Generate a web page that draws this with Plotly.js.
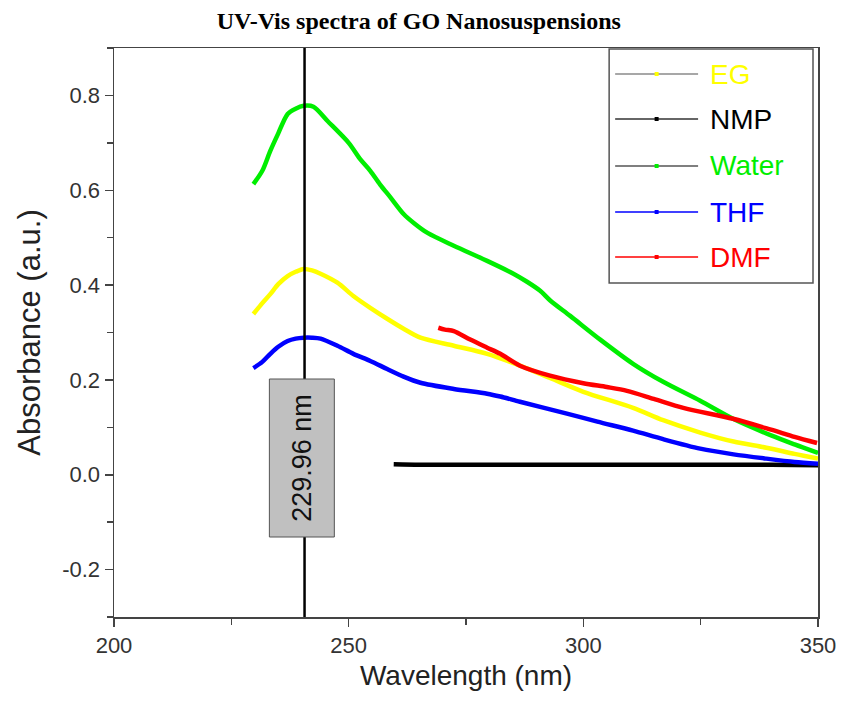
<!DOCTYPE html>
<html>
<head>
<meta charset="utf-8">
<script src="https://cdn.plot.ly/plotly-3.0.1.min.js"></script>
<style>html,body{margin:0;padding:0;background:#fff;}#chart{width:841px;height:707px;}</style>
</head>
<body>
<div id="chart"></div>
<script>
// Series names and colours
const seriesNames = ['EG', 'NMP', 'Water', 'THF', 'DMF'];
const seriesColors = ['#ffff00', '#000000', '#00ee00', '#0000ff', '#ff0000'];
const legendLineColors = ['#8a8a8a', '#333333', '#555555', '#0000ff', '#ff0000'];

// Wavelength (nm) / absorbance readings
const egX = [229.7, 231.6, 233.3, 235, 237, 238.7, 240.4, 242.2, 244, 247.6, 251, 254.6, 258.2, 261.7, 265.3, 272.4, 279.5, 286.5, 292.9, 300, 310.6, 317, 324.9, 332, 339, 345, 350];
const egY = [0.339, 0.362, 0.381, 0.402, 0.419, 0.428, 0.434, 0.431, 0.424, 0.405, 0.377, 0.352, 0.329, 0.308, 0.289, 0.272, 0.255, 0.23, 0.204, 0.175, 0.141, 0.115, 0.089, 0.07, 0.057, 0.044, 0.034];

const nmpX = [259.6, 265, 270, 280, 290, 300, 310, 320, 330, 340, 350];
const nmpY = [0.022, 0.021, 0.021, 0.021, 0.021, 0.021, 0.021, 0.021, 0.021, 0.021, 0.02];

const waterX = [229.7, 231.6, 233.3, 235, 237, 238.7, 240.4, 242.5, 245.5, 250, 252.5, 254.6, 256.7, 258.9, 261.7, 264, 266.8, 272.4, 279.5, 285.1, 288, 290.8, 293, 297.2, 303.6, 310.6, 317, 324.9, 331.9, 340, 345, 350];
const waterY = [0.613, 0.641, 0.683, 0.72, 0.761, 0.772, 0.778, 0.776, 0.746, 0.7, 0.665, 0.641, 0.612, 0.585, 0.55, 0.53, 0.51, 0.483, 0.451, 0.424, 0.407, 0.388, 0.367, 0.335, 0.285, 0.234, 0.196, 0.156, 0.118, 0.083, 0.064, 0.046];

const thfX = [229.7, 231.6, 233.3, 235, 237, 238.7, 240.4, 242.2, 244, 247.6, 251, 254.6, 258.2, 261.7, 265.3, 272.4, 279.5, 282.3, 286.5, 296.5, 303, 310.6, 317, 324.9, 332, 339, 345, 350];
const thfY = [0.225, 0.238, 0.255, 0.27, 0.282, 0.287, 0.289, 0.289, 0.287, 0.272, 0.255, 0.24, 0.223, 0.207, 0.194, 0.181, 0.171, 0.165, 0.154, 0.129, 0.112, 0.093, 0.075, 0.055, 0.043, 0.034, 0.027, 0.023];

const dmfX = [269.1, 270.5, 272.4, 275.9, 279.5, 282.3, 286.5, 292.9, 300, 305, 309.3, 315, 321.3, 331.9, 340, 345, 349.8];
const dmfY = [0.31, 0.306, 0.303, 0.285, 0.268, 0.255, 0.23, 0.209, 0.193, 0.185, 0.177, 0.16, 0.141, 0.118, 0.095, 0.08, 0.067];

const peakWavelength = 240.6;
const peakLabel = '229.96 nm';

const xTickVals = [200, 250, 300, 350];
const yTickVals = [-0.2, 0.0, 0.2, 0.4, 0.6, 0.8];
const yTickText = ['-0.2', '0.0', '0.2', '0.4', '0.6', '0.8'];

const xs = [egX, nmpX, waterX, thfX, dmfX];
const ys = [egY, nmpY, waterY, thfY, dmfY];

const traces = seriesNames.map((n, i) => ({
  x: xs[i], y: ys[i], name: n, type: 'scatter', mode: 'lines',
  line: {color: seriesColors[i], width: 4.5, shape: 'spline', smoothing: 0.8},
  showlegend: false, hoverinfo: 'skip'
}));

// Manual legend (paper coords), plot area: x 113.5..818 px, y 48..617 px
const plotL = 113.5, plotR = 818, plotT = 48, plotB = 617;
const px2x = p => (p - plotL) / (plotR - plotL);
const py2y = p => (plotB - p) / (plotB - plotT);

const shapes = [
  {type: 'line', xref: 'x', yref: 'paper', x0: peakWavelength, x1: peakWavelength, y0: 0, y1: 1,
   line: {color: '#000', width: 2.5}},
  {type: 'rect', xref: 'paper', yref: 'paper', x0: px2x(269), x1: px2x(334), y0: py2y(537), y1: py2y(379),
   fillcolor: '#c0c0c0', line: {color: '#555', width: 1}},
  {type: 'rect', xref: 'paper', yref: 'paper', x0: px2x(609), x1: px2x(813), y0: py2y(283), y1: py2y(49),
   fillcolor: '#ffffff', line: {color: '#555', width: 1.5}}
];
const annotations = [
  {xref: 'paper', yref: 'paper', x: px2x(301.5), y: py2y(458), xanchor: 'center', yanchor: 'middle',
   text: peakLabel, textangle: -90,
   showarrow: false, font: {family: 'Liberation Sans, Arial', size: 27, color: '#111'}}
];
const rowY = [74, 119, 166, 212, 257];
seriesNames.forEach((n, i) => {
  const yy = py2y(rowY[i]);
  shapes.push({type: 'line', xref: 'paper', yref: 'paper', x0: px2x(615), x1: px2x(698), y0: yy, y1: yy,
    line: {color: legendLineColors[i], width: 1.5}});
  shapes.push({type: 'rect', xref: 'paper', yref: 'paper', x0: px2x(654.5), x1: px2x(658.5),
    y0: py2y(rowY[i] + 2), y1: py2y(rowY[i] - 2), fillcolor: seriesColors[i], line: {width: 0}});
  annotations.push({xref: 'paper', yref: 'paper', x: px2x(708), y: yy, xanchor: 'left', yanchor: 'middle',
    text: n, showarrow: false, font: {family: 'Liberation Sans, Arial', size: 28, color: seriesColors[i]}});
});

const layout = {
  width: 841, height: 707,
  margin: {l: 113.5, r: 23, t: 48, b: 90},
  paper_bgcolor: '#fff', plot_bgcolor: '#fff',
  showlegend: false,
  title: {text: '<b>UV-Vis spectra of GO Nanosuspensions</b>', xref: 'container', yref: 'container',
    x: 0.498, y: 1 - 21 / 707, xanchor: 'center', yanchor: 'middle',
    font: {family: 'Liberation Serif, Times New Roman', size: 24, color: '#000'}},
  xaxis: {range: [200, 350], tickvals: xTickVals, ticks: 'outside', ticklen: 8, tickwidth: 1.5, tickcolor: '#444',
    showline: true, linecolor: '#444', linewidth: 1.5, mirror: true, showgrid: false, zeroline: false,
    minor: {dtick: 25, tick0: 200, ticks: 'outside', ticklen: 6, tickwidth: 1.5, tickcolor: '#444', showgrid: false},
    tickfont: {family: 'Liberation Sans, Arial', size: 22, color: '#333'},
    title: {text: 'Wavelength (nm)', standoff: 8, font: {family: 'Liberation Sans, Arial', size: 28, color: '#222'}}},
  yaxis: {range: [-0.3, 0.9], tickvals: yTickVals, ticktext: yTickText, ticks: 'outside', ticklen: 8, tickwidth: 1.5, tickcolor: '#444',
    showline: true, linecolor: '#444', linewidth: 1.5, mirror: true, showgrid: false, zeroline: false,
    minor: {dtick: 0.1, tick0: 0, ticks: 'outside', ticklen: 6, tickwidth: 1.5, tickcolor: '#444', showgrid: false},
    tickfont: {family: 'Liberation Sans, Arial', size: 22, color: '#333'},
    title: {text: 'Absorbance (a.u.)', standoff: 12, font: {family: 'Liberation Sans, Arial', size: 31, color: '#222'}}},
  shapes: shapes,
  annotations: annotations
};

Plotly.newPlot('chart', traces, layout, {staticPlot: true, displayModeBar: false});
</script>
</body>
</html>
